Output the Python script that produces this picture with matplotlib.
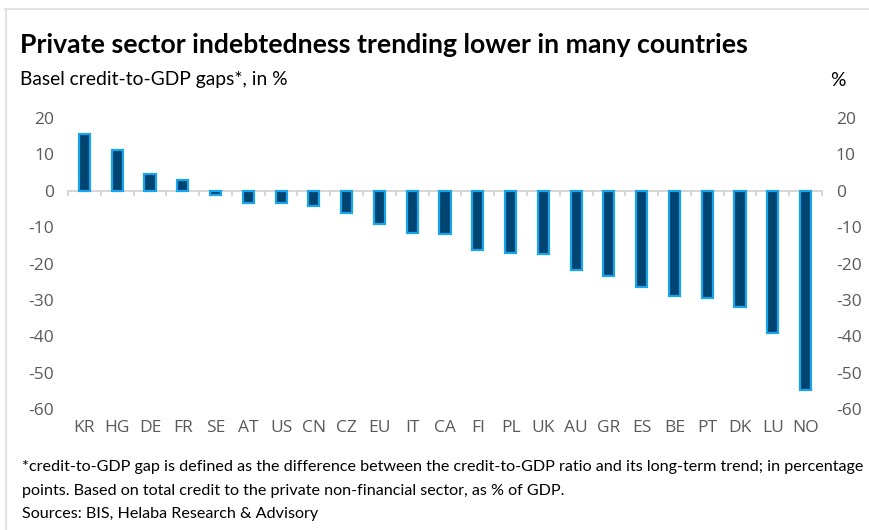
import numpy as np
import matplotlib.pyplot as plt
from matplotlib.lines import Line2D

countries = ["KR", "HG", "DE", "FR", "SE", "AT", "US", "CN", "CZ", "EU", "IT", "CA",
             "FI", "PL", "UK", "AU", "GR", "ES", "BE", "PT", "DK", "LU", "NO"]
gaps = [15.6, 11.3, 4.7, 3.0, -1.1, -3.3, -3.3, -4.1, -6.1, -9.1, -11.6, -11.8,
        -16.3, -17.1, -17.4, -21.8, -23.4, -26.4, -28.9, -29.5, -32.0, -39.1, -54.8]
yticks = [20, 10, 0, -10, -20, -30, -40, -50, -60]

narrow = ["Lato", "DejaVu Sans"]
plain = ["Open Sans", "DejaVu Sans"]
grey = "#595959"

fig = plt.figure(figsize=(8.7, 5.3), dpi=100)
ax = fig.add_axes([68/870, 1-409/530, (822-68)/870, (409-118)/530])

x = np.arange(len(countries))
ax.bar(x, gaps, width=0.34, color="#004572", edgecolor="#1aa4ea", linewidth=1.6, zorder=3)

ax.set_xlim(-0.5, len(countries) - 0.5)
ax.set_ylim(-60, 20)
ax.set_yticks(yticks)
ax.set_yticklabels([str(v) for v in yticks], family=plain, fontsize=12.5, color=grey)
ax.tick_params(axis="y", length=0, pad=10, labelright=True, right=False)
ax.set_xticks([])
for s in ax.spines.values():
    s.set_visible(False)

# zero line with category separators
ax.axhline(0, color="#d0d0d0", lw=1.2, zorder=2)
for b in np.arange(-0.5, len(countries), 1.0):
    ax.plot([b, b], [0, -1.3], color="#d0d0d0", lw=1.2, zorder=2, clip_on=False)

for i, c in enumerate(countries):
    ax.text(i, -63.0, c, ha="center", va="top", family=plain, fontsize=12.5, color=grey)

# outer frame lines (top and left)
fig.add_artist(Line2D([5/870, 1], [1-9/530, 1-9/530], color="#e3e3e3", lw=1.5))
fig.add_artist(Line2D([6/870, 6/870], [0, 1-9/530], color="#e3e3e3", lw=1.5))

renderer = fig.canvas.get_renderer()


def fit(t, width_px, size):
    # shrink font so the text spans about width_px pixels
    w = t.get_window_extent(renderer).width
    t.set_fontsize(size * width_px / w)


title = fig.text(20/870, 1-45/530, "Private sector indebtedness trending lower in many countries",
                 family=narrow, fontsize=18, fontweight="bold", color="black", va="center")
fit(title, 730, 18)
sub = fig.text(20/870, 1-80/530, "Basel credit-to-GDP gaps*, in %", family=narrow,
               fontsize=13, color="black", va="center")
fit(sub, 267, 13)
fig.text(838/870, 1-80/530, "%", family=narrow, fontsize=sub.get_fontsize(), color="black",
         va="center", ha="center")

notes = ["*credit-to-GDP gap is defined as the difference between the credit-to-GDP ratio and its long-term trend; in percentage",
         "points. Based on total credit to the private non-financial sector, as % of GDP.",
         "Sources: BIS, Helaba Research & Advisory"]
nt = []
for k, line in enumerate(notes):
    nt.append(fig.text(22/870, 1-(467+23.5*k)/530, line, family=narrow, fontsize=12,
                       color="black", va="center"))
fit(nt[0], 840, 12)
for t in nt[1:]:
    t.set_fontsize(nt[0].get_fontsize())

fig.savefig("out.png", dpi=100)
